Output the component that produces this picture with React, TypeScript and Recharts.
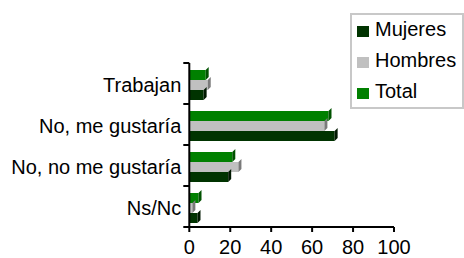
import { BarChart, Bar, XAxis, YAxis } from "recharts";

const CATEGORIES = ["Trabajan", "No, me gustaría", "No, no me gustaría", "Ns/Nc"];
const MUJERES = [7, 71, 19, 4];
const HOMBRES = [9, 66, 24, 1.5];
const TOTAL = [8, 68, 21, 4.5];
const X_TICKS = [0, 20, 40, 60, 80, 100];

const FONT = "'Liberation Sans', Arial, sans-serif";
const W = 464;
const H = 258;
const PLOT_TOP = 63;
const PLOT_BOTTOM = 227;
const BAND = (PLOT_BOTTOM - PLOT_TOP) / CATEGORIES.length;

const SERIES = [
  { key: "total", name: "Total", color: "#008000", side: "#005200" },
  { key: "hombres", name: "Hombres", color: "#c0c0c0", side: "#7a7a7a" },
  { key: "mujeres", name: "Mujeres", color: "#003300", side: "#001800" },
];

const data = CATEGORIES.map((name, i) => ({
  name,
  mujeres: MUJERES[i],
  hombres: HOMBRES[i],
  total: TOTAL[i],
}));

// front face + a slanted side face, like the old Excel 3D bars
function Bar3D(props: any) {
  const { x, y, width, height, fill, side } = props;
  if (width == null || height == null) return null;
  const d = 3;
  const yy = y + 1;
  const r = x + width;
  return (
    <g>
      <rect x={x} y={yy} width={width} height={height} fill={fill} />
      <polygon
        points={`${r},${yy} ${r + d},${yy - d} ${r + d},${yy + height - d} ${r},${yy + height}`}
        fill={side}
      />
    </g>
  );
}

function CatTick(props: any) {
  const { x, y, payload, index } = props;
  const axisX = x + 8;
  const last = index === CATEGORIES.length - 1;
  return (
    <g>
      <line x1={axisX - 6} x2={axisX} y1={y - BAND / 2} y2={y - BAND / 2} stroke="#000" strokeWidth={2} />
      {last && (
        <line x1={axisX - 6} x2={axisX} y1={y + BAND / 2} y2={y + BAND / 2} stroke="#000" strokeWidth={2} />
      )}
      <text x={x} y={y} dy={8.8} textAnchor="end" fill="#000" fontSize={20} fontFamily={FONT}>
        {payload.value}
      </text>
    </g>
  );
}

export default function App() {
  return (
    <div style={{ position: "absolute", left: 0, top: 0, width: W, height: H, background: "#fff" }}>
      <BarChart
        layout="vertical"
        width={W}
        height={H}
        data={data}
        margin={{ top: PLOT_TOP, right: 70, bottom: 0, left: 0 }}
        barCategoryGap={6}
        barGap={0}
      >
        <XAxis
          type="number"
          domain={[0, 100]}
          ticks={X_TICKS}
          interval={0}
          height={H - PLOT_BOTTOM}
          axisLine={{ stroke: "#000", strokeWidth: 2 }}
          tickLine={{ stroke: "#000", strokeWidth: 2 }}
          tickSize={5}
          tickMargin={8}
          tick={{ fill: "#000", fontSize: 20, fontFamily: FONT }}
        />
        <YAxis
          type="category"
          dataKey="name"
          width={189.3}
          interval={0}
          axisLine={{ stroke: "#000", strokeWidth: 2 }}
          tickLine={false}
          tickSize={6}
          tickMargin={2}
          tick={<CatTick />}
        />
        {SERIES.map((s) => (
          <Bar
            key={s.key}
            dataKey={s.key}
            name={s.name}
            fill={s.color}
            isAnimationActive={false}
            shape={(p: any) => <Bar3D {...p} fill={s.color} side={s.side} />}
          />
        ))}
      </BarChart>

      {/* Legend */}
      <div
        style={{
          position: "absolute",
          left: 350,
          top: 13,
          width: 114,
          height: 96,
          boxSizing: "border-box",
          border: "2px solid #c8c8c8",
          background: "#fff",
          fontFamily: FONT,
          fontSize: 20,
          color: "#000",
        }}
      >
        {[...SERIES].reverse().map((s, i) => (
          <div key={s.key} style={{ position: "absolute", left: 5, top: 11 + i * 31, height: 11, width: 110 }}>
            <div style={{ position: "absolute", left: 0, top: 0, width: 12, height: 11, background: s.color }} />
            <div style={{ position: "absolute", left: 18, top: -8, lineHeight: "23px", whiteSpace: "nowrap" }}>
              {s.name}
            </div>
          </div>
        ))}
      </div>
    </div>
  );
}
